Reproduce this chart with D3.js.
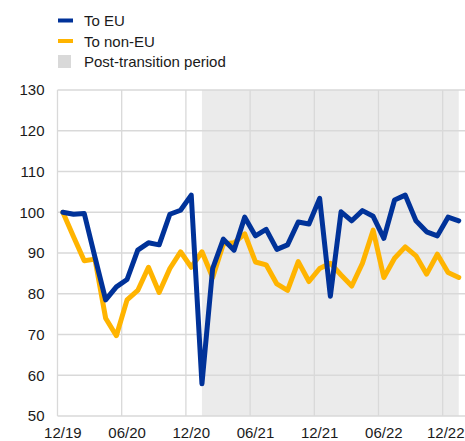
<!DOCTYPE html>
<html>
<head>
<meta charset="utf-8">
<script src="https://cdn.jsdelivr.net/npm/d3@7"></script>
<style>
  html, body { margin: 0; padding: 0; background: #fff; }
  svg { display: block; font-family: "Liberation Sans", Arial, sans-serif; }
</style>
</head>
<body>
<svg id="chart" width="465" height="441"></svg>
<script>
// Monthly observations, Dec 2019 – Jan 2023 (index, Dec 2019 = 100)
const months = [
  "2019-12","2020-01","2020-02","2020-03","2020-04","2020-05","2020-06","2020-07",
  "2020-08","2020-09","2020-10","2020-11","2020-12","2021-01","2021-02","2021-03",
  "2021-04","2021-05","2021-06","2021-07","2021-08","2021-09","2021-10","2021-11",
  "2021-12","2022-01","2022-02","2022-03","2022-04","2022-05","2022-06","2022-07",
  "2022-08","2022-09","2022-10","2022-11","2022-12","2023-01"
];

const toEU = [
  100, 99.5, 99.7, 89, 78.5, 81.7, 83.5, 90.7,
  92.5, 92, 99.5, 100.5, 104.2, 57.9, 86.2, 93.4,
  90.7, 98.8, 94.2, 95.8, 90.9, 92, 97.6, 97.1,
  103.4, 79.4, 100.1, 97.9, 100.4, 99, 93.6, 103,
  104.2, 97.9, 95.2, 94.2, 98.8, 97.9
];

const toNonEU = [
  100, 94, 88.1, 88.5, 74, 69.7, 78.5, 80.8,
  86.5, 80.3, 86.2, 90.3, 86.5, 90.3, 84, 92.2,
  92.5, 94.7, 87.8, 87.1, 82.4, 80.8, 87.9, 83,
  86.2, 87.5, 84.6, 81.9, 87.5, 95.6, 84, 88.7,
  91.5, 89.3, 84.8, 89.7, 85.2, 84
];

const yTicks = [50, 60, 70, 80, 90, 100, 110, 120, 130];
const xTickMonths = ["2019-12","2020-06","2020-12","2021-06","2021-12","2022-06","2022-12"];
const xTickLabels = ["12/19","06/20","12/20","06/21","12/21","06/22","12/22"];
const shadeStart = "2021-01";   // end of the transition period
const shadeEnd = "2023-01";

const seriesNames = ["To EU", "To non-EU"];
const shadeName = "Post-transition period";

const colors = { eu: "#003299", nonEu: "#ffb400", shade: "#ebebeb", grid: "#d9d9d9", text: "#1a1a1a" };

const width = 465;
const svg = d3.select("#chart");
const plotLeft = 57.5, plotRight = 464.1, plotTop = 90, plotBottom = 416;

const x = d3.scaleBand().domain(months).range([plotLeft, plotRight]).paddingInner(0).paddingOuter(0);
const xc = m => x(m) + x.bandwidth() / 2;
const y = d3.scaleLinear().domain([50, 130]).range([plotBottom, plotTop]);

// shaded post-transition period
svg.append("rect")
  .attr("x", xc(shadeStart))
  .attr("y", plotTop)
  .attr("width", xc(shadeEnd) - xc(shadeStart))
  .attr("height", plotBottom - plotTop)
  .attr("fill", colors.shade);

// horizontal gridlines
svg.append("g").selectAll("line").data(yTicks).join("line")
  .attr("x1", plotLeft).attr("x2", width)
  .attr("y1", d => y(d)).attr("y2", d => y(d))
  .attr("stroke", colors.grid).attr("stroke-width", 1.3);

// vertical gridlines at the start of each labelled month
svg.append("g").selectAll("line").data(xTickMonths).join("line")
  .attr("x1", d => x(d)).attr("x2", d => x(d))
  .attr("y1", plotTop).attr("y2", plotBottom)
  .attr("stroke", colors.grid).attr("stroke-width", 1.3);

// y axis labels
const yAxis = d3.axisLeft(y).tickValues(yTicks).tickSize(0).tickPadding(0);
svg.append("g")
  .attr("transform", `translate(${plotLeft - 13},0)`)
  .call(yAxis)
  .call(g => g.select(".domain").remove())
  .call(g => g.selectAll("text")
    .attr("font-size", 15).attr("fill", colors.text)
    .attr("font-family", "Liberation Sans, Arial, sans-serif"));

// x axis labels; the last one is kept inside the right edge
const xAxis = d3.axisBottom(x).tickValues(xTickMonths)
  .tickFormat((d, i) => xTickLabels[i]).tickSize(0).tickPadding(0);
svg.append("g")
  .attr("transform", `translate(0,${plotBottom + 11})`)
  .call(xAxis)
  .call(g => g.select(".domain").remove())
  .call(g => g.selectAll("text")
    .attr("font-size", 15).attr("fill", colors.text)
    .attr("font-family", "Liberation Sans, Arial, sans-serif"))
  .call(g => g.selectAll(".tick").each(function () {
    const t = d3.select(this).select("text");
    const tickX = x(d3.select(this).datum()) + x.bandwidth() / 2;
    const w = t.node().getComputedTextLength();
    const overflow = tickX + w / 2 - (width - 0.5);
    if (overflow > 0) t.attr("dx", -overflow);
  }));

// series lines
const line = d3.line().x((d, i) => xc(months[i])).y(d => y(d));
[[toNonEU, colors.nonEu], [toEU, colors.eu]].forEach(([vals, c]) => {
  svg.append("path")
    .datum(vals)
    .attr("d", line)
    .attr("fill", "none")
    .attr("stroke", c)
    .attr("stroke-width", 5)
    .attr("stroke-linejoin", "round")
    .attr("stroke-linecap", "round");
});

// legend
const legend = svg.append("g").attr("font-size", 15).attr("fill", colors.text);
const legendItems = [
  { label: seriesNames[0], color: colors.eu, kind: "line" },
  { label: seriesNames[1], color: colors.nonEu, kind: "line" },
  { label: shadeName, color: "#d9d9d9", kind: "box" }
];
legendItems.forEach((it, i) => {
  const cy = 20.5 + i * 20.5;
  if (it.kind === "line") {
    legend.append("rect").attr("x", 58).attr("y", cy - 2).attr("width", 15).attr("height", 4).attr("fill", it.color);
  } else {
    legend.append("rect").attr("x", 58).attr("y", cy - 6.5).attr("width", 13).attr("height", 13).attr("fill", it.color);
  }
  legend.append("text").attr("x", 84).attr("y", cy + 5.5).text(it.label);
});
</script>
</body>
</html>
